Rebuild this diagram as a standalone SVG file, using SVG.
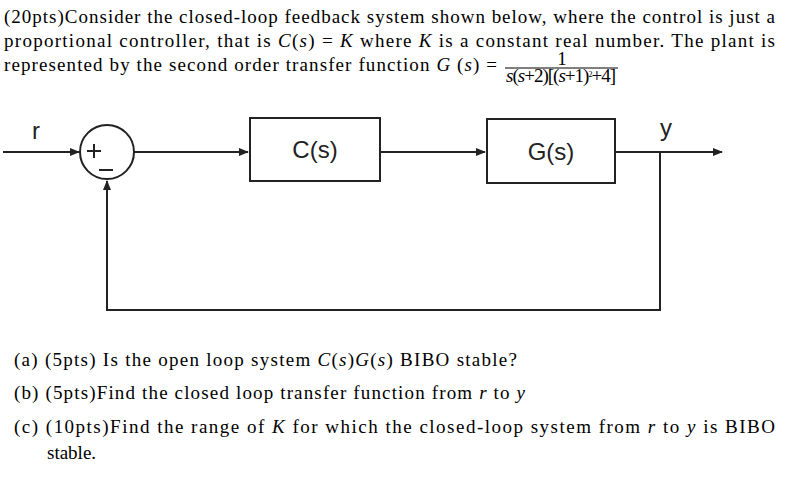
<svg xmlns="http://www.w3.org/2000/svg" width="789" height="481" viewBox="0 0 789 481">
<style>
.t{font-family:"Liberation Serif",serif;font-size:19px;fill:#000}
.i{font-style:italic}
.d{font-family:"Liberation Sans",sans-serif;font-size:24px;fill:#222}
.box{fill:#fff;stroke:#222;stroke-width:2}
.ln{fill:none;stroke:#222;stroke-width:2}
</style>
<defs><marker id="a" markerWidth="10" markerHeight="8" refX="9" refY="4" orient="auto" markerUnits="userSpaceOnUse"><path d="M0,0L10,4L0,8z" fill="#222"/></marker></defs>
<rect width="789" height="481" fill="#fff"/>
<text class="t" x="4" y="23" textLength="771" lengthAdjust="spacing">(20pts)Consider the closed-loop feedback system shown below, where the control is just a</text>
<text class="t" x="4" y="47" textLength="771" lengthAdjust="spacing">proportional controller, that is <tspan class="i">C</tspan>(<tspan class="i">s</tspan>) = <tspan class="i">K</tspan> where <tspan class="i">K</tspan> is a constant real number. The plant is</text>
<text class="t" x="4" y="71" textLength="493" lengthAdjust="spacing">represented by the second order transfer function <tspan class="i">G</tspan> (<tspan class="i">s</tspan>) =</text>
<text class="t" x="562" y="65" font-size="11" text-anchor="middle">1</text>
<line x1="505" y1="68" x2="618" y2="68" stroke="#000" stroke-width="1"/>
<text class="t" x="506" y="82" font-size="12" textLength="110" lengthAdjust="spacing"><tspan class="i">s</tspan>(<tspan class="i">s</tspan>+2)[(<tspan class="i">s</tspan>+1)<tspan font-size="8" dy="-5">2</tspan><tspan dy="5">+4]</tspan></text>
<g id="connectors">
<line class="ln" x1="3" y1="152" x2="79" y2="152" marker-end="url(#a)"/>
<line class="ln" x1="134" y1="152" x2="248" y2="152" marker-end="url(#a)"/>
<line class="ln" x1="380" y1="152" x2="485" y2="152" marker-end="url(#a)"/>
<line class="ln" x1="615" y1="152" x2="722" y2="152" marker-end="url(#a)"/>
<polyline class="ln" points="660,152 660,310 107,310 107,181" marker-end="url(#a)"/>
</g>
<g id="sum"><circle class="ln" cx="107" cy="152" r="27"/>
<line x1="87" y1="151" x2="101" y2="151" stroke="#222" stroke-width="2"/>
<line x1="94" y1="144" x2="94" y2="158" stroke="#222" stroke-width="2"/>
<line x1="99" y1="170" x2="113" y2="170" stroke="#222" stroke-width="2"/></g>
<g id="C"><rect class="box" x="250" y="118" width="130" height="63"/><text class="d" x="315" y="158" text-anchor="middle">C(s)</text></g>
<g id="G"><rect class="box" x="487" y="119" width="128" height="64"/><text class="d" x="551" y="160" text-anchor="middle">G(s)</text></g>
<text class="d" x="36" y="139" text-anchor="middle">r</text>
<text class="d" x="666" y="136" text-anchor="middle">y</text>
<text class="t" x="14" y="366" textLength="503" lengthAdjust="spacing">(a)  (5pts) Is the open loop system <tspan class="i">C</tspan>(<tspan class="i">s</tspan>)<tspan class="i">G</tspan>(<tspan class="i">s</tspan>) BIBO stable?</text>
<text class="t" x="14" y="399" textLength="511" lengthAdjust="spacing">(b)  (5pts)Find the closed loop transfer function from <tspan class="i">r</tspan> to <tspan class="i">y</tspan></text>
<text class="t" x="14" y="433" textLength="761" lengthAdjust="spacing">(c)  (10pts)Find the range of <tspan class="i">K</tspan> for which the closed-loop system from <tspan class="i">r</tspan> to <tspan class="i">y</tspan> is BIBO</text>
<text class="t" x="47" y="459">stable.</text>
</svg>
